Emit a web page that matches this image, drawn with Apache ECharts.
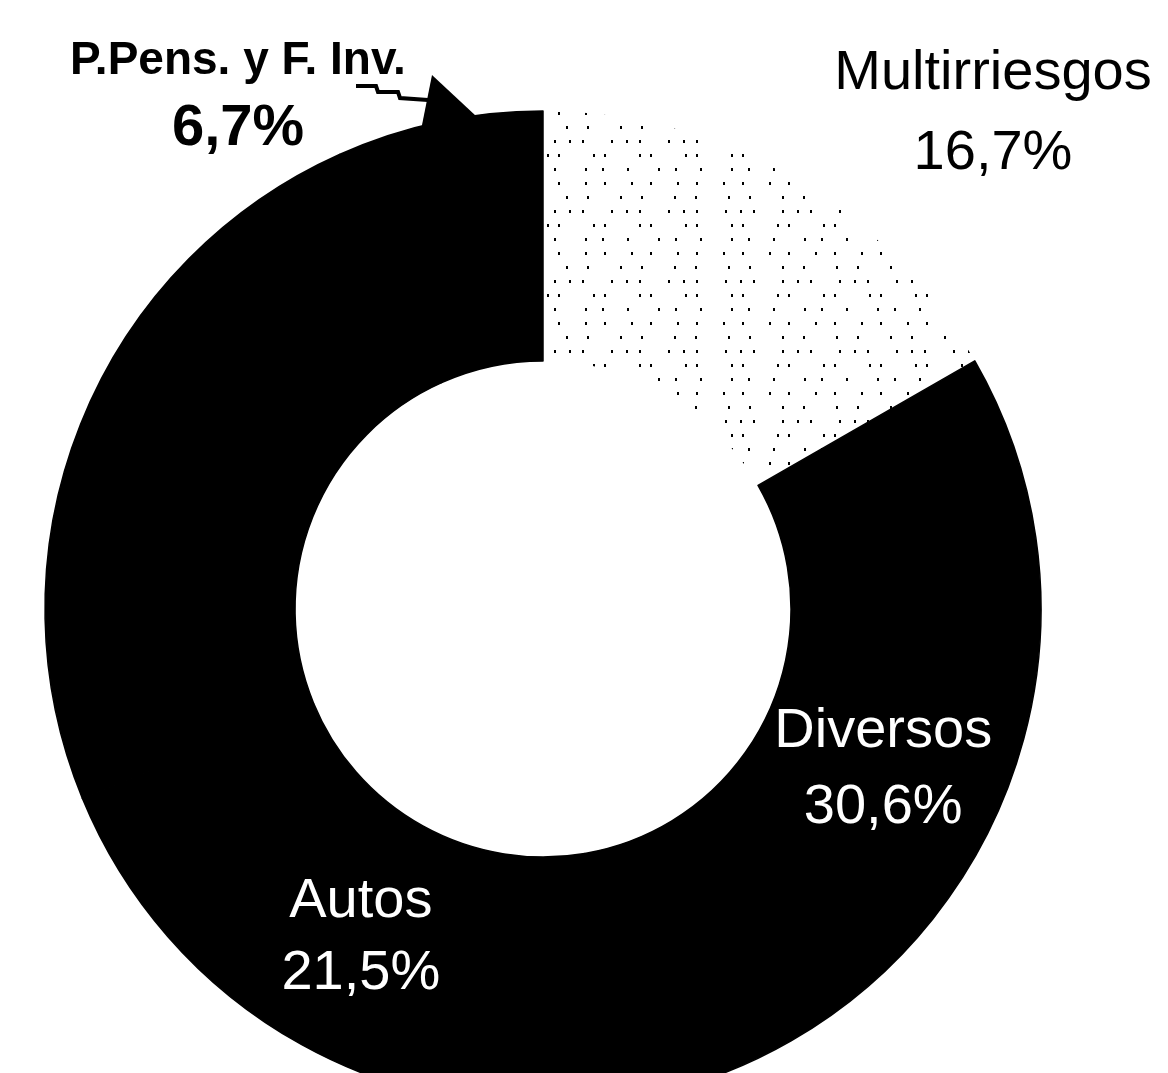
<!DOCTYPE html>
<html>
<head>
<meta charset="utf-8">
<title>Distribución de primas por ramo</title>
<script src="https://cdn.jsdelivr.net/npm/echarts@6/dist/echarts.min.js"></script>
<style>
  html, body { margin: 0; padding: 0; background: #fff; }
  #chart { width: 1168px; height: 1073px; }
</style>
</head>
<body>
<div id="chart"></div>
<script>
// Ramos, clockwise from twelve o'clock. The fourth slice carries no label.
const categories = ['Multirriesgos', 'Diversos', 'Autos', '', 'P.Pens. y F. Inv.'];
// Share of each ramo, in percent
const shares = [16.7, 30.6, 21.5, 24.5, 6.7];

const fmt = v => v.toFixed(1).replace('.', ',') + '%';

const FONT = '"Liberation Sans", Arial, Helvetica, sans-serif';

// Sparse black stipple for the light slice
const stipple = {
  symbol: 'rect',
  symbolSize: 1,
  color: '#000',
  dashArrayX: [[2, 19, 2, 31], [2, 11, 2, 27, 2, 13], [2, 33, 2, 9], [2, 15, 2, 23, 2, 29], [2, 25, 2, 17]],
  dashArrayY: [3, 11],
  rotation: 0
};

// Black slices get a matching outline so no seams show between them
const solid = { color: '#000', borderColor: '#000', borderWidth: 1.5 };

// Label anchors for the slices whose labels sit outside the ring
const outsideAnchors = {
  0: [993, 114],
  4: [238, 98]
};

const itemLook = [
  { itemStyle: { color: '#fff', decal: stipple },
    label: { position: 'outside', color: '#000', fontSize: 56, lineHeight: 80 } },
  { itemStyle: solid,
    label: { position: 'inside', color: '#fff', fontSize: 56, lineHeight: 76 } },
  { itemStyle: solid,
    label: { position: 'inside', color: '#fff', fontSize: 56, lineHeight: 72 } },
  { itemStyle: solid, label: { show: false } },
  { itemStyle: solid,
    label: { position: 'outside', color: '#000',
      formatter: p => '{a|' + p.name + '}\n{b|' + fmt(p.value) + '}',
      rich: {
        a: { fontFamily: FONT, fontSize: 46, fontWeight: 'bold', lineHeight: 62, color: '#000' },
        b: { fontFamily: FONT, fontSize: 58, fontWeight: 'bold', lineHeight: 74, color: '#000' }
      } } }
];

const data = categories.map((name, i) => Object.assign({ name, value: shares[i] }, itemLook[i]));

const chart = echarts.init(document.getElementById('chart'), null, { renderer: 'canvas' });

chart.setOption({
  backgroundColor: '#fff',
  animation: false,
  series: [{
    type: 'pie',
    center: [543, 609],
    radius: [248, 498],
    startAngle: 90,
    clockwise: true,
    avoidLabelOverlap: false,
    label: {
      show: true,
      fontFamily: FONT,
      formatter: p => p.name + '\n' + fmt(p.value)
    },
    labelLine: { show: false },
    emphasis: { disabled: true },
    labelLayout: params => {
      const a = outsideAnchors[params.dataIndex];
      return a ? { x: a[0], y: a[1], align: 'center', verticalAlign: 'middle' } : {};
    },
    data
  }],
  graphic: [
    // Pointer from the small slice's label to its slice
    {
      type: 'polyline',
      shape: { points: [[356, 86], [376, 86], [378, 92], [398, 92], [400, 98], [428, 100]] },
      style: { stroke: '#000', lineWidth: 4, fill: null }
    },
    {
      type: 'polygon',
      shape: { points: [[432, 75], [476, 116], [421, 130]] },
      style: { fill: '#000' }
    }
  ]
});
</script>
</body>
</html>
